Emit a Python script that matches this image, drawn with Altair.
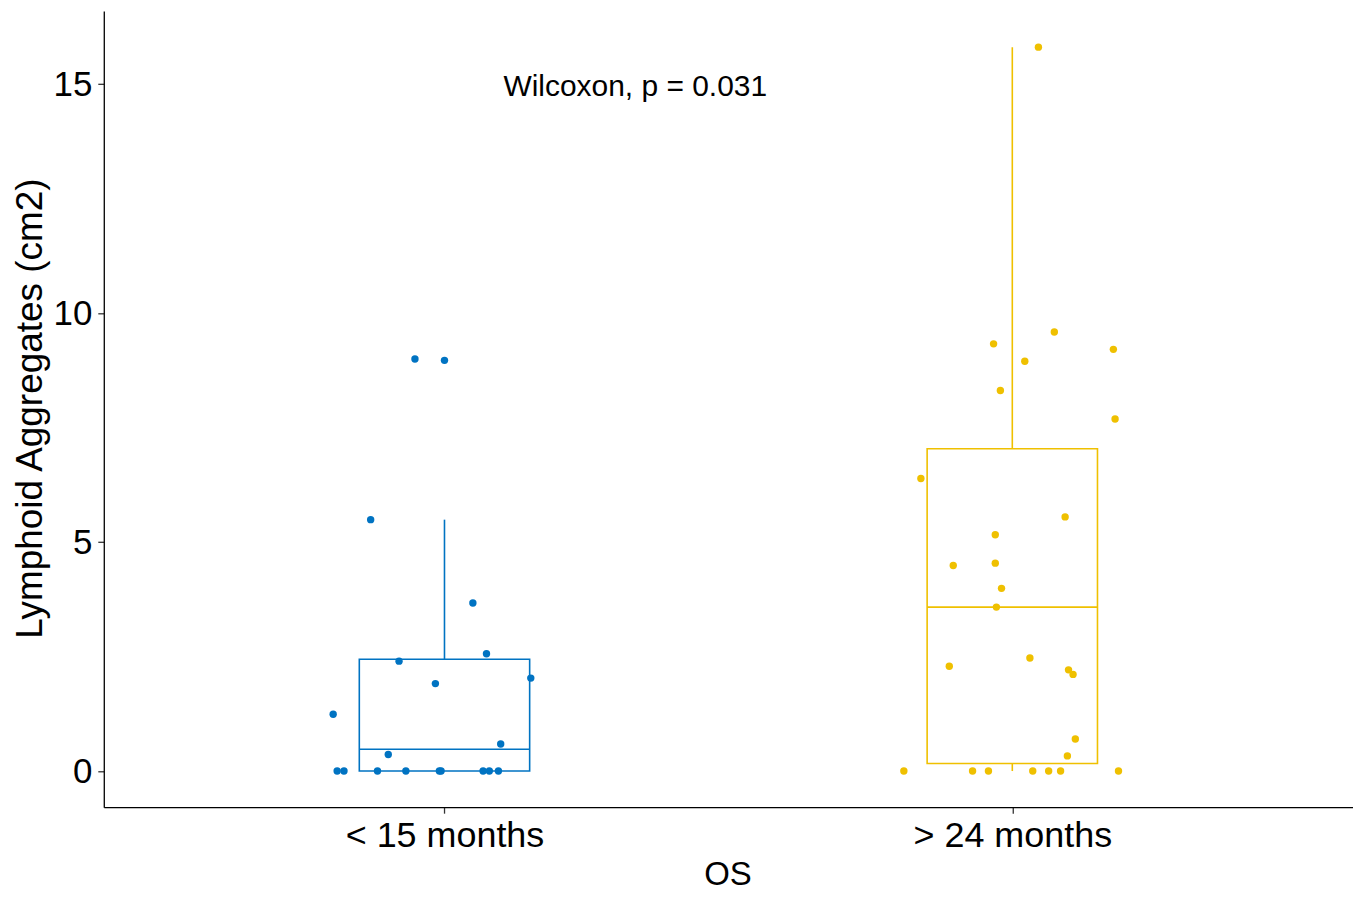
import altair as alt
import numpy as np
import pandas as pd

# ---- data ----
groups = ["< 15 months", "> 24 months"]
group_pos = [1, 2]
colors = ["#0073C2", "#EFC000"]

g1_values = [9.00, 8.97, 5.49, 3.67, 2.56, 2.40, 1.91, 2.03, 1.24, 0.59, 0.36,
             0, 0, 0, 0, 0, 0, 0, 0, 0]
g1_jitter = [-0.052, 0.0, -0.130, 0.050, 0.074, -0.080, -0.016, 0.152, -0.196, 0.099, -0.099,
             -0.189, -0.177, -0.118, -0.068, -0.009, 0.068, 0.079, 0.095, -0.006]

g2_values = [15.81, 9.59, 9.33, 9.21, 8.95, 8.31, 7.69, 6.39, 5.55, 5.16, 4.49, 4.54, 3.99,
             3.58, 2.47, 2.29, 2.21, 2.11, 0.70, 0.33, 0, 0, 0, 0, 0, 0, 0]
g2_jitter = [0.046, 0.074, -0.033, 0.178, 0.022, -0.021, 0.181, -0.161, 0.093, -0.030, -0.104,
             -0.030, -0.019, -0.028, 0.031, -0.111, 0.099, 0.107, 0.111, 0.097,
             -0.191, -0.070, -0.042, 0.036, 0.064, 0.085, 0.187]

annotation = "Wilcoxon, p = 0.031"
y_ticks = [0, 5, 10, 15]

# ---- tables ----
pts = pd.concat([
    pd.DataFrame({"group": groups[0], "x": np.array(g1_jitter) + group_pos[0], "y": g1_values}),
    pd.DataFrame({"group": groups[1], "x": np.array(g2_jitter) + group_pos[1], "y": g2_values}),
])

rows = []
for g, p, vals in zip(groups, group_pos, [g1_values, g2_values]):
    v = np.array(vals, dtype=float)
    q1, med, q3 = np.quantile(v, [0.25, 0.5, 0.75])
    iqr = q3 - q1
    whi = v[v <= q3 + 1.5 * iqr].max()
    wlo = v[v >= q1 - 1.5 * iqr].min()
    rows.append(dict(group=g, x=p, lo=p - 0.15, hi=p + 0.15, q1=q1, med=med, q3=q3, wlo=wlo, whi=whi))
stats = pd.DataFrame(rows)

xscale = alt.Scale(domain=[0.4, 2.6], nice=False, zero=False)
yscale = alt.Scale(domain=[-0.79, 16.6], nice=False, zero=False)
cscale = alt.Scale(domain=groups, range=colors)

font = "Liberation Sans"

xaxis = alt.Axis(values=group_pos, labelExpr="datum.value == 1 ? '< 15 months' : '> 24 months'",
                 title="OS", titleX=625, titleY=77, titleBaseline="alphabetic", titleAlign="center",
                 labelBaseline="alphabetic", labelPadding=33, tickSize=6, labelLimit=0)
yaxis = alt.Axis(values=y_ticks, title="Lymphoid Aggregates (cm2)", titleX=-73, titleY=398,
                 titleAngle=-90, titleBaseline="middle", titleAlign="center",
                 labelPadding=6, tickSize=6, labelLimit=0)

base = alt.Chart(stats)

box = base.mark_rect(fill="white", strokeWidth=1.6).encode(
    x=alt.X("lo:Q", scale=xscale, axis=xaxis),
    x2="hi:Q",
    y=alt.Y("q1:Q", scale=yscale, axis=yaxis),
    y2="q3:Q",
    stroke=alt.Stroke("group:N", scale=cscale, legend=None),
)
median = base.mark_rule(strokeWidth=1.6).encode(
    x=alt.X("lo:Q", scale=xscale), x2="hi:Q",
    y=alt.Y("med:Q", scale=yscale),
    color=alt.Color("group:N", scale=cscale, legend=None),
)
whisk_up = base.mark_rule(strokeWidth=1.6).encode(
    x=alt.X("x:Q", scale=xscale),
    y=alt.Y("q3:Q", scale=yscale), y2="whi:Q",
    color=alt.Color("group:N", scale=cscale, legend=None),
)
whisk_dn = base.mark_rule(strokeWidth=1.6).encode(
    x=alt.X("x:Q", scale=xscale),
    y=alt.Y("wlo:Q", scale=yscale), y2="q1:Q",
    color=alt.Color("group:N", scale=cscale, legend=None),
)
points = alt.Chart(pts).mark_circle(size=55, opacity=1).encode(
    x=alt.X("x:Q", scale=xscale),
    y=alt.Y("y:Q", scale=yscale),
    color=alt.Color("group:N", scale=cscale, legend=None),
)
text = alt.Chart(pd.DataFrame({"x": [1.336], "y": [14.74], "t": [annotation]})).mark_text(
    font=font, fontSize=30, color="black", align="center", baseline="alphabetic"
).encode(
    x=alt.X("x:Q", scale=xscale),
    y=alt.Y("y:Q", scale=yscale),
    text="t:N",
)

chart = alt.layer(box, median, whisk_up, whisk_dn, points, text).properties(
    width=1252, height=798,
    autosize=alt.AutoSizeParams(type="none"),
    padding={"left": 96, "top": 2, "right": 0, "bottom": 85},
).configure_view(stroke=None).configure_axis(
    grid=False,
    domainColor="black", domainWidth=1.3,
    tickColor="#333333", tickWidth=1.3,
    labelFont=font, labelFontSize=35, labelColor="black",
    titleFont=font, titleFontWeight="normal", titleColor="black",
).configure_axisX(titleFontSize=33, labelFontSize=36).configure_axisY(titleFontSize=37)

chart.save("out.html", embed_options={"renderer": "svg", "actions": False})
